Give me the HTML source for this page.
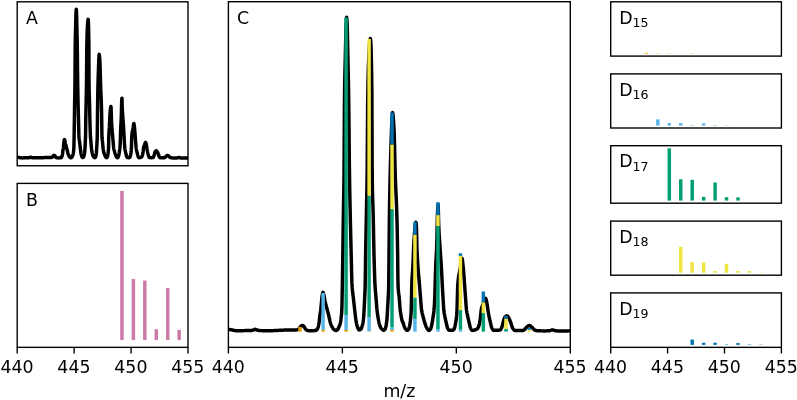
<!DOCTYPE html>
<html><head><meta charset="utf-8"><title>m/z</title>
<style>html,body{margin:0;padding:0;background:#fff}svg{display:block}</style>
</head><body>
<svg width="797" height="400" viewBox="0 0 797 400" font-family="'DejaVu Sans', 'Liberation Sans', sans-serif" font-size="17.36px" fill="#000">
<rect width="797" height="400" fill="#fff"/>
<clipPath id="ca"><rect x="17.2" y="1.8" width="170.80" height="163.95"/></clipPath>
<path d="M17.20,157.28 L17.32,157.28 L17.45,157.29 L17.57,157.29 L17.70,157.30 L17.82,157.31 L17.95,157.32 L18.07,157.33 L18.20,157.34 L18.32,157.36 L18.45,157.37 L18.57,157.38 L18.70,157.40 L18.82,157.43 L18.95,157.46 L19.07,157.49 L19.20,157.52 L19.32,157.56 L19.45,157.59 L19.57,157.62 L19.70,157.65 L19.82,157.68 L19.95,157.70 L20.07,157.72 L20.20,157.73 L20.32,157.75 L20.45,157.77 L20.57,157.78 L20.70,157.80 L20.82,157.82 L20.95,157.83 L21.07,157.84 L21.20,157.86 L21.32,157.87 L21.45,157.88 L21.57,157.88 L21.70,157.89 L21.82,157.89 L21.95,157.90 L22.07,157.90 L22.20,157.90 L22.32,157.90 L22.45,157.89 L22.57,157.89 L22.70,157.89 L22.82,157.89 L22.94,157.88 L23.07,157.88 L23.19,157.88 L23.32,157.87 L23.44,157.87 L23.57,157.86 L23.69,157.86 L23.82,157.86 L23.94,157.85 L24.07,157.85 L24.19,157.84 L24.32,157.84 L24.44,157.83 L24.57,157.83 L24.69,157.82 L24.82,157.82 L24.94,157.82 L25.07,157.81 L25.19,157.81 L25.32,157.81 L25.44,157.80 L25.57,157.80 L25.69,157.80 L25.82,157.80 L25.94,157.79 L26.07,157.79 L26.19,157.79 L26.32,157.79 L26.44,157.79 L26.57,157.79 L26.69,157.79 L26.82,157.78 L26.94,157.78 L27.07,157.78 L27.19,157.78 L27.32,157.78 L27.44,157.78 L27.57,157.78 L27.69,157.77 L27.82,157.77 L27.94,157.77 L28.07,157.77 L28.19,157.76 L28.32,157.76 L28.44,157.76 L28.57,157.75 L28.69,157.74 L28.81,157.73 L28.94,157.71 L29.06,157.68 L29.19,157.66 L29.31,157.63 L29.44,157.60 L29.56,157.56 L29.69,157.53 L29.81,157.49 L29.94,157.44 L30.06,157.37 L30.19,157.30 L30.31,157.24 L30.44,157.20 L30.56,157.19 L30.69,157.20 L30.81,157.24 L30.94,157.29 L31.06,157.34 L31.19,157.40 L31.31,157.46 L31.44,157.50 L31.56,157.54 L31.69,157.57 L31.81,157.60 L31.94,157.63 L32.06,157.66 L32.19,157.69 L32.31,157.72 L32.44,157.74 L32.56,157.76 L32.69,157.78 L32.81,157.79 L32.94,157.80 L33.06,157.80 L33.19,157.81 L33.31,157.81 L33.44,157.81 L33.56,157.81 L33.69,157.82 L33.81,157.82 L33.94,157.82 L34.06,157.82 L34.19,157.82 L34.31,157.83 L34.43,157.83 L34.56,157.83 L34.68,157.83 L34.81,157.83 L34.93,157.83 L35.06,157.84 L35.18,157.84 L35.31,157.84 L35.43,157.84 L35.56,157.84 L35.68,157.84 L35.81,157.84 L35.93,157.84 L36.06,157.84 L36.18,157.84 L36.31,157.85 L36.43,157.85 L36.56,157.85 L36.68,157.85 L36.81,157.85 L36.93,157.85 L37.06,157.85 L37.18,157.85 L37.31,157.85 L37.43,157.85 L37.56,157.85 L37.68,157.85 L37.81,157.85 L37.93,157.85 L38.06,157.85 L38.18,157.85 L38.31,157.85 L38.43,157.85 L38.56,157.84 L38.68,157.84 L38.81,157.84 L38.93,157.84 L39.06,157.83 L39.18,157.83 L39.31,157.83 L39.43,157.82 L39.56,157.82 L39.68,157.81 L39.81,157.81 L39.93,157.80 L40.05,157.80 L40.18,157.79 L40.30,157.79 L40.43,157.78 L40.55,157.77 L40.68,157.77 L40.80,157.76 L40.93,157.76 L41.05,157.75 L41.18,157.74 L41.30,157.74 L41.43,157.73 L41.55,157.72 L41.68,157.72 L41.80,157.71 L41.93,157.71 L42.05,157.70 L42.18,157.69 L42.30,157.69 L42.43,157.68 L42.55,157.68 L42.68,157.67 L42.80,157.67 L42.93,157.66 L43.05,157.66 L43.18,157.65 L43.30,157.65 L43.43,157.64 L43.55,157.64 L43.68,157.63 L43.80,157.62 L43.93,157.62 L44.05,157.61 L44.18,157.61 L44.30,157.60 L44.43,157.59 L44.55,157.59 L44.68,157.58 L44.80,157.57 L44.93,157.57 L45.05,157.56 L45.18,157.56 L45.30,157.55 L45.43,157.54 L45.55,157.54 L45.67,157.53 L45.80,157.53 L45.92,157.52 L46.05,157.52 L46.17,157.51 L46.30,157.51 L46.42,157.50 L46.55,157.50 L46.67,157.49 L46.80,157.49 L46.92,157.48 L47.05,157.48 L47.17,157.48 L47.30,157.48 L47.42,157.47 L47.55,157.47 L47.67,157.47 L47.80,157.47 L47.92,157.47 L48.05,157.47 L48.17,157.47 L48.30,157.47 L48.42,157.47 L48.55,157.47 L48.67,157.47 L48.80,157.47 L48.92,157.47 L49.05,157.47 L49.17,157.47 L49.30,157.47 L49.42,157.47 L49.55,157.47 L49.67,157.47 L49.80,157.47 L49.92,157.47 L50.05,157.47 L50.17,157.47 L50.30,157.47 L50.42,157.47 L50.55,157.47 L50.67,157.47 L50.80,157.47 L50.92,157.47 L51.05,157.47 L51.17,157.46 L51.30,157.45 L51.42,157.43 L51.54,157.40 L51.67,157.37 L51.79,157.34 L51.92,157.30 L52.04,157.25 L52.17,157.21 L52.29,157.14 L52.42,157.03 L52.54,156.87 L52.67,156.68 L52.79,156.48 L52.92,156.28 L53.04,156.10 L53.17,155.95 L53.29,155.84 L53.42,155.74 L53.54,155.64 L53.67,155.54 L53.79,155.46 L53.92,155.39 L54.04,155.35 L54.17,155.34 L54.29,155.36 L54.42,155.42 L54.54,155.50 L54.67,155.61 L54.79,155.73 L54.92,155.86 L55.04,155.99 L55.17,156.17 L55.29,156.38 L55.42,156.61 L55.54,156.82 L55.67,156.99 L55.79,157.12 L55.92,157.24 L56.04,157.35 L56.17,157.46 L56.29,157.56 L56.42,157.64 L56.54,157.70 L56.67,157.74 L56.79,157.77 L56.92,157.78 L57.04,157.80 L57.16,157.82 L57.29,157.83 L57.41,157.84 L57.54,157.86 L57.66,157.87 L57.79,157.87 L57.91,157.88 L58.04,157.89 L58.16,157.89 L58.29,157.90 L58.41,157.90 L58.54,157.90 L58.66,157.89 L58.79,157.89 L58.91,157.88 L59.04,157.88 L59.16,157.87 L59.29,157.86 L59.41,157.85 L59.54,157.84 L59.66,157.83 L59.79,157.82 L59.91,157.81 L60.04,157.80 L60.16,157.79 L60.29,157.77 L60.41,157.76 L60.54,157.75 L60.66,157.73 L60.79,157.72 L60.91,157.69 L61.04,157.67 L61.16,157.62 L61.29,157.52 L61.41,157.38 L61.54,157.20 L61.66,156.99 L61.79,156.76 L61.91,156.49 L62.04,156.12 L62.16,155.66 L62.29,155.12 L62.41,154.50 L62.54,153.81 L62.66,152.79 L62.78,151.62 L62.91,150.64 L63.03,149.84 L63.16,149.07 L63.28,148.22 L63.41,147.17 L63.53,145.94 L63.66,144.71 L63.78,143.43 L63.91,142.16 L64.03,141.24 L64.16,140.48 L64.28,139.88 L64.41,139.64 L64.53,139.75 L64.66,140.05 L64.78,140.44 L64.91,140.86 L65.03,141.43 L65.16,142.13 L65.28,142.86 L65.41,143.53 L65.53,144.09 L65.66,144.60 L65.78,145.08 L65.91,145.55 L66.03,145.99 L66.16,146.43 L66.28,146.87 L66.41,147.31 L66.53,147.76 L66.66,148.22 L66.78,148.67 L66.91,149.13 L67.03,149.58 L67.16,150.04 L67.28,150.51 L67.41,151.00 L67.53,151.52 L67.66,152.09 L67.78,152.67 L67.91,153.22 L68.03,153.71 L68.16,154.11 L68.28,154.46 L68.41,154.78 L68.53,155.07 L68.65,155.34 L68.78,155.60 L68.90,155.83 L69.03,156.06 L69.15,156.29 L69.28,156.50 L69.40,156.69 L69.53,156.86 L69.65,157.00 L69.78,157.11 L69.90,157.21 L70.03,157.31 L70.15,157.41 L70.28,157.50 L70.40,157.58 L70.53,157.65 L70.65,157.70 L70.78,157.73 L70.90,157.75 L71.03,157.75 L71.15,157.72 L71.28,157.67 L71.40,157.60 L71.53,157.51 L71.65,157.41 L71.78,157.30 L71.90,157.14 L72.03,156.92 L72.15,156.66 L72.28,156.38 L72.40,156.09 L72.53,155.83 L72.65,155.56 L72.78,155.28 L72.90,154.97 L73.03,154.60 L73.15,154.16 L73.28,153.58 L73.40,152.72 L73.53,151.66 L73.65,150.58 L73.78,149.49 L73.90,147.30 L74.03,140.94 L74.15,134.79 L74.27,126.94 L74.40,118.56 L74.52,109.72 L74.65,101.46 L74.77,95.03 L74.90,87.87 L75.02,73.78 L75.15,51.63 L75.27,41.27 L75.40,35.43 L75.52,30.88 L75.65,26.03 L75.77,20.75 L75.90,16.17 L76.02,12.49 L76.15,10.23 L76.27,9.16 L76.40,10.22 L76.52,12.57 L76.65,16.68 L76.77,22.07 L76.90,28.25 L77.02,33.69 L77.15,39.28 L77.27,46.06 L77.40,56.15 L77.52,68.73 L77.65,80.37 L77.77,88.52 L77.90,95.00 L78.02,100.74 L78.15,106.25 L78.27,111.41 L78.40,116.28 L78.52,121.01 L78.65,126.00 L78.77,131.16 L78.90,135.18 L79.02,137.22 L79.15,138.60 L79.27,139.66 L79.40,140.57 L79.52,141.48 L79.65,142.54 L79.77,143.62 L79.89,144.67 L80.02,145.72 L80.14,146.77 L80.27,147.82 L80.39,148.90 L80.52,149.99 L80.64,151.00 L80.77,151.93 L80.89,152.81 L81.02,153.58 L81.14,154.19 L81.27,154.71 L81.39,155.18 L81.52,155.59 L81.64,155.94 L81.77,156.25 L81.89,156.54 L82.02,156.83 L82.14,157.09 L82.27,157.30 L82.39,157.43 L82.52,157.47 L82.64,157.46 L82.77,157.44 L82.89,157.40 L83.02,157.35 L83.14,157.30 L83.27,157.23 L83.39,157.14 L83.52,156.96 L83.64,156.69 L83.77,156.36 L83.89,156.00 L84.02,155.64 L84.14,155.24 L84.27,154.78 L84.39,154.22 L84.52,153.50 L84.64,152.51 L84.77,151.27 L84.89,149.66 L85.02,147.60 L85.14,145.25 L85.27,142.64 L85.39,140.11 L85.52,137.03 L85.64,129.66 L85.76,120.47 L85.89,113.84 L86.01,107.84 L86.14,101.74 L86.26,96.13 L86.39,90.17 L86.51,81.94 L86.64,66.14 L86.76,49.95 L86.89,42.26 L87.01,37.03 L87.14,32.94 L87.26,29.72 L87.39,27.08 L87.51,24.84 L87.64,23.00 L87.76,21.61 L87.89,20.55 L88.01,19.67 L88.14,19.31 L88.26,19.92 L88.39,21.39 L88.51,25.06 L88.64,30.08 L88.76,36.13 L88.89,46.06 L89.01,80.23 L89.14,90.17 L89.26,94.89 L89.39,98.16 L89.51,101.97 L89.64,107.64 L89.76,114.06 L89.89,119.99 L90.01,124.59 L90.14,128.73 L90.26,132.36 L90.39,135.26 L90.51,137.33 L90.64,138.90 L90.76,140.22 L90.89,141.53 L91.01,143.02 L91.14,144.62 L91.26,146.19 L91.38,147.57 L91.51,148.65 L91.63,149.57 L91.76,150.39 L91.88,151.14 L92.01,151.87 L92.13,152.56 L92.26,153.19 L92.38,153.76 L92.51,154.25 L92.63,154.72 L92.76,155.14 L92.88,155.50 L93.01,155.79 L93.13,156.04 L93.26,156.27 L93.38,156.48 L93.51,156.67 L93.63,156.83 L93.76,156.97 L93.88,157.09 L94.01,157.21 L94.13,157.32 L94.26,157.42 L94.38,157.51 L94.51,157.59 L94.63,157.64 L94.76,157.66 L94.88,157.65 L95.01,157.59 L95.13,157.50 L95.26,157.39 L95.38,157.24 L95.51,157.08 L95.63,156.85 L95.76,156.47 L95.88,155.96 L96.01,155.33 L96.13,154.60 L96.26,153.78 L96.38,152.57 L96.51,151.00 L96.63,148.91 L96.76,146.80 L96.88,144.79 L97.00,142.59 L97.13,140.26 L97.25,137.10 L97.38,127.30 L97.50,114.36 L97.63,102.97 L97.75,95.37 L97.88,89.23 L98.00,84.00 L98.13,79.34 L98.25,75.16 L98.38,71.36 L98.50,67.79 L98.63,64.33 L98.75,60.74 L98.88,57.76 L99.00,56.02 L99.13,54.75 L99.25,54.38 L99.38,55.01 L99.50,56.19 L99.63,57.51 L99.75,59.20 L99.88,61.33 L100.00,63.89 L100.13,67.16 L100.25,71.96 L100.38,77.39 L100.50,82.37 L100.63,86.09 L100.75,89.08 L100.88,91.68 L101.00,94.18 L101.13,96.85 L101.25,99.97 L101.38,103.82 L101.50,108.72 L101.63,114.76 L101.75,121.94 L101.88,133.46 L102.00,137.52 L102.13,139.06 L102.25,140.04 L102.38,140.84 L102.50,141.84 L102.62,143.28 L102.75,144.92 L102.87,146.51 L103.00,147.82 L103.12,148.76 L103.25,149.53 L103.37,150.21 L103.50,150.86 L103.62,151.56 L103.75,152.26 L103.87,152.84 L104.00,153.21 L104.12,153.47 L104.25,153.68 L104.37,153.89 L104.50,154.14 L104.62,154.48 L104.75,154.89 L104.87,155.31 L105.00,155.68 L105.12,155.97 L105.25,156.24 L105.37,156.50 L105.50,156.72 L105.62,156.91 L105.75,157.07 L105.87,157.22 L106.00,157.36 L106.12,157.49 L106.25,157.60 L106.37,157.67 L106.50,157.71 L106.62,157.69 L106.75,157.63 L106.87,157.54 L107.00,157.40 L107.12,157.25 L107.25,157.07 L107.37,156.85 L107.50,156.51 L107.62,156.01 L107.75,155.41 L107.87,154.72 L108.00,153.96 L108.12,153.01 L108.25,151.80 L108.37,150.48 L108.49,148.97 L108.62,144.78 L108.74,138.17 L108.87,134.40 L108.99,132.20 L109.12,130.57 L109.24,129.04 L109.37,127.15 L109.49,124.44 L109.62,121.18 L109.74,118.16 L109.87,115.95 L109.99,114.02 L110.12,112.30 L110.24,110.81 L110.37,109.56 L110.49,108.52 L110.62,107.51 L110.74,106.74 L110.87,106.43 L110.99,106.97 L111.12,108.38 L111.24,112.18 L111.37,117.90 L111.49,120.91 L111.62,123.26 L111.74,125.23 L111.87,127.05 L111.99,128.72 L112.12,130.22 L112.24,131.60 L112.37,132.92 L112.49,134.23 L112.62,135.60 L112.74,137.06 L112.87,138.55 L112.99,140.04 L113.12,141.52 L113.24,143.01 L113.37,144.62 L113.49,146.18 L113.62,147.47 L113.74,148.33 L113.87,148.97 L113.99,149.49 L114.11,149.95 L114.24,150.38 L114.36,150.81 L114.49,151.28 L114.61,151.75 L114.74,152.21 L114.86,152.66 L114.99,153.09 L115.11,153.50 L115.24,153.89 L115.36,154.25 L115.49,154.62 L115.61,154.97 L115.74,155.32 L115.86,155.64 L115.99,155.94 L116.11,156.21 L116.24,156.45 L116.36,156.64 L116.49,156.84 L116.61,157.02 L116.74,157.20 L116.86,157.37 L116.99,157.51 L117.11,157.63 L117.24,157.71 L117.36,157.75 L117.49,157.75 L117.61,157.69 L117.74,157.60 L117.86,157.47 L117.99,157.32 L118.11,157.13 L118.24,156.93 L118.36,156.71 L118.49,156.35 L118.61,155.88 L118.74,155.31 L118.86,154.70 L118.99,154.08 L119.11,153.45 L119.24,152.74 L119.36,151.97 L119.49,151.16 L119.61,150.35 L119.73,149.51 L119.86,148.51 L119.98,147.20 L120.11,145.45 L120.23,143.18 L120.36,139.80 L120.48,135.38 L120.61,131.47 L120.73,127.92 L120.86,125.10 L120.98,122.94 L121.11,120.90 L121.23,118.43 L121.36,114.58 L121.48,108.69 L121.61,103.61 L121.73,100.79 L121.86,98.65 L121.98,98.14 L122.11,102.00 L122.23,107.05 L122.36,109.81 L122.48,112.02 L122.61,113.95 L122.73,115.75 L122.86,117.57 L122.98,119.31 L123.11,120.93 L123.23,122.52 L123.36,124.16 L123.48,125.93 L123.61,127.91 L123.73,130.14 L123.86,132.49 L123.98,134.83 L124.11,137.05 L124.23,139.21 L124.36,141.30 L124.48,143.34 L124.61,145.43 L124.73,147.24 L124.86,148.44 L124.98,149.30 L125.11,150.00 L125.23,150.62 L125.36,151.25 L125.48,151.84 L125.60,152.40 L125.73,152.94 L125.85,153.45 L125.98,153.96 L126.10,154.48 L126.23,155.02 L126.35,155.53 L126.48,155.99 L126.60,156.36 L126.73,156.63 L126.85,156.89 L126.98,157.12 L127.10,157.32 L127.23,157.47 L127.35,157.55 L127.48,157.57 L127.60,157.59 L127.73,157.60 L127.85,157.61 L127.98,157.62 L128.10,157.63 L128.23,157.64 L128.35,157.64 L128.48,157.65 L128.60,157.65 L128.73,157.65 L128.85,157.66 L128.98,157.66 L129.10,157.66 L129.23,157.65 L129.35,157.61 L129.48,157.53 L129.60,157.43 L129.73,157.30 L129.85,157.15 L129.98,156.98 L130.10,156.76 L130.23,156.39 L130.35,155.91 L130.48,155.34 L130.60,154.72 L130.73,154.09 L130.85,153.45 L130.98,152.73 L131.10,151.86 L131.22,150.74 L131.35,148.99 L131.47,145.77 L131.60,141.28 L131.72,137.15 L131.85,135.30 L131.97,134.04 L132.10,133.01 L132.22,132.16 L132.35,131.45 L132.47,130.84 L132.60,130.28 L132.72,129.74 L132.85,129.17 L132.97,128.54 L133.10,127.79 L133.22,126.90 L133.35,125.93 L133.47,125.01 L133.60,124.22 L133.72,123.67 L133.85,123.46 L133.97,123.69 L134.10,124.32 L134.22,125.23 L134.35,126.30 L134.47,127.44 L134.60,128.57 L134.72,129.92 L134.85,131.48 L134.97,133.15 L135.10,134.86 L135.22,136.50 L135.35,138.15 L135.47,139.83 L135.60,141.47 L135.72,143.07 L135.85,144.75 L135.97,146.34 L136.10,147.64 L136.22,148.53 L136.35,149.22 L136.47,149.81 L136.60,150.35 L136.72,150.88 L136.84,151.45 L136.97,152.00 L137.09,152.53 L137.22,153.05 L137.34,153.56 L137.47,154.06 L137.59,154.58 L137.72,155.12 L137.84,155.64 L137.97,156.09 L138.09,156.46 L138.22,156.72 L138.34,156.96 L138.47,157.19 L138.59,157.39 L138.72,157.55 L138.84,157.66 L138.97,157.71 L139.09,157.71 L139.22,157.70 L139.34,157.69 L139.47,157.67 L139.59,157.65 L139.72,157.63 L139.84,157.60 L139.97,157.57 L140.09,157.54 L140.22,157.51 L140.34,157.48 L140.47,157.45 L140.59,157.42 L140.72,157.38 L140.84,157.34 L140.97,157.29 L141.09,157.23 L141.22,157.17 L141.34,157.10 L141.47,157.01 L141.59,156.91 L141.72,156.75 L141.84,156.56 L141.97,156.33 L142.09,156.08 L142.22,155.80 L142.34,155.47 L142.46,155.07 L142.59,154.60 L142.71,154.07 L142.84,153.45 L142.96,152.67 L143.09,151.78 L143.21,150.78 L143.34,149.41 L143.46,148.18 L143.59,147.55 L143.71,147.04 L143.84,146.63 L143.96,146.27 L144.09,145.95 L144.21,145.65 L144.34,145.32 L144.46,144.97 L144.59,144.61 L144.71,144.26 L144.84,143.92 L144.96,143.60 L145.09,143.31 L145.21,143.05 L145.34,142.77 L145.46,142.54 L145.59,142.43 L145.71,142.54 L145.84,142.80 L145.96,143.13 L146.09,143.53 L146.21,144.10 L146.34,144.79 L146.46,145.52 L146.59,146.30 L146.71,147.19 L146.84,148.03 L146.96,148.77 L147.09,149.47 L147.21,150.13 L147.34,150.75 L147.46,151.35 L147.59,151.91 L147.71,152.45 L147.84,152.97 L147.96,153.47 L148.09,153.96 L148.21,154.46 L148.33,154.98 L148.46,155.48 L148.58,155.93 L148.71,156.30 L148.83,156.57 L148.96,156.82 L149.08,157.04 L149.21,157.25 L149.33,157.42 L149.46,157.54 L149.58,157.60 L149.71,157.62 L149.83,157.62 L149.96,157.63 L150.08,157.63 L150.21,157.64 L150.33,157.64 L150.46,157.65 L150.58,157.65 L150.71,157.65 L150.83,157.66 L150.96,157.66 L151.08,157.66 L151.21,157.66 L151.33,157.66 L151.46,157.66 L151.58,157.66 L151.71,157.65 L151.83,157.65 L151.96,157.64 L152.08,157.63 L152.21,157.62 L152.33,157.60 L152.46,157.59 L152.58,157.57 L152.71,157.55 L152.83,157.53 L152.96,157.49 L153.08,157.40 L153.21,157.26 L153.33,157.08 L153.46,156.86 L153.58,156.63 L153.71,156.38 L153.83,156.09 L153.95,155.70 L154.08,155.25 L154.20,154.77 L154.33,154.30 L154.45,153.88 L154.58,153.45 L154.70,153.01 L154.83,152.58 L154.95,152.18 L155.08,151.85 L155.20,151.62 L155.33,151.47 L155.45,151.33 L155.58,151.21 L155.70,151.10 L155.83,151.00 L155.95,150.92 L156.08,150.86 L156.20,150.82 L156.33,150.81 L156.45,150.83 L156.58,150.91 L156.70,151.03 L156.83,151.17 L156.95,151.35 L157.08,151.53 L157.20,151.72 L157.33,151.90 L157.45,152.12 L157.58,152.37 L157.70,152.65 L157.83,152.95 L157.95,153.27 L158.08,153.58 L158.20,153.90 L158.33,154.22 L158.45,154.59 L158.58,154.98 L158.70,155.38 L158.83,155.76 L158.95,156.10 L159.08,156.39 L159.20,156.61 L159.33,156.79 L159.45,156.98 L159.57,157.15 L159.70,157.30 L159.82,157.44 L159.95,157.55 L160.07,157.64 L160.20,157.69 L160.32,157.71 L160.45,157.73 L160.57,157.74 L160.70,157.75 L160.82,157.76 L160.95,157.77 L161.07,157.78 L161.20,157.79 L161.32,157.79 L161.45,157.80 L161.57,157.80 L161.70,157.80 L161.82,157.80 L161.95,157.80 L162.07,157.80 L162.20,157.80 L162.32,157.80 L162.45,157.80 L162.57,157.80 L162.70,157.80 L162.82,157.80 L162.95,157.80 L163.07,157.80 L163.20,157.80 L163.32,157.80 L163.45,157.80 L163.57,157.80 L163.70,157.80 L163.82,157.80 L163.95,157.80 L164.07,157.78 L164.20,157.76 L164.32,157.72 L164.45,157.68 L164.57,157.62 L164.70,157.56 L164.82,157.50 L164.95,157.43 L165.07,157.36 L165.20,157.28 L165.32,157.17 L165.44,157.03 L165.57,156.87 L165.69,156.71 L165.82,156.55 L165.94,156.41 L166.07,156.28 L166.19,156.18 L166.32,156.07 L166.44,155.97 L166.57,155.86 L166.69,155.76 L166.82,155.67 L166.94,155.59 L167.07,155.51 L167.19,155.45 L167.32,155.41 L167.44,155.39 L167.57,155.39 L167.69,155.41 L167.82,155.45 L167.94,155.51 L168.07,155.59 L168.19,155.68 L168.32,155.78 L168.44,155.88 L168.57,155.99 L168.69,156.09 L168.82,156.20 L168.94,156.30 L169.07,156.42 L169.19,156.55 L169.32,156.70 L169.44,156.84 L169.57,156.99 L169.69,157.13 L169.82,157.25 L169.94,157.36 L170.07,157.44 L170.19,157.50 L170.32,157.56 L170.44,157.61 L170.57,157.66 L170.69,157.71 L170.82,157.75 L170.94,157.78 L171.06,157.81 L171.19,157.83 L171.31,157.85 L171.44,157.85 L171.56,157.86 L171.69,157.87 L171.81,157.87 L171.94,157.88 L172.06,157.88 L172.19,157.89 L172.31,157.89 L172.44,157.90 L172.56,157.90 L172.69,157.90 L172.81,157.91 L172.94,157.91 L173.06,157.92 L173.19,157.92 L173.31,157.92 L173.44,157.92 L173.56,157.93 L173.69,157.93 L173.81,157.93 L173.94,157.93 L174.06,157.94 L174.19,157.94 L174.31,157.94 L174.44,157.94 L174.56,157.94 L174.69,157.94 L174.81,157.94 L174.94,157.94 L175.06,157.94 L175.19,157.94 L175.31,157.94 L175.44,157.94 L175.56,157.94 L175.69,157.94 L175.81,157.94 L175.94,157.94 L176.06,157.93 L176.19,157.93 L176.31,157.93 L176.44,157.92 L176.56,157.91 L176.68,157.91 L176.81,157.90 L176.93,157.90 L177.06,157.89 L177.18,157.88 L177.31,157.87 L177.43,157.86 L177.56,157.85 L177.68,157.84 L177.81,157.82 L177.93,157.79 L178.06,157.75 L178.18,157.71 L178.31,157.66 L178.43,157.62 L178.56,157.58 L178.68,157.54 L178.81,157.51 L178.93,157.48 L179.06,157.47 L179.18,157.47 L179.31,157.49 L179.43,157.52 L179.56,157.56 L179.68,157.60 L179.81,157.65 L179.93,157.70 L180.06,157.75 L180.18,157.80 L180.31,157.84 L180.43,157.87 L180.56,157.89 L180.68,157.90 L180.81,157.91 L180.93,157.91 L181.06,157.92 L181.18,157.93 L181.31,157.93 L181.43,157.94 L181.56,157.94 L181.68,157.95 L181.81,157.95 L181.93,157.96 L182.06,157.96 L182.18,157.97 L182.31,157.97 L182.43,157.97 L182.55,157.98 L182.68,157.98 L182.80,157.98 L182.93,157.98 L183.05,157.99 L183.18,157.99 L183.30,157.99 L183.43,157.99 L183.55,157.99 L183.68,157.99 L183.80,157.99 L183.93,157.99 L184.05,157.99 L184.18,157.99 L184.30,157.99 L184.43,157.99 L184.55,157.99 L184.68,157.99 L184.80,157.99 L184.93,157.99 L185.05,157.99 L185.18,157.98 L185.30,157.98 L185.43,157.98 L185.55,157.98 L185.68,157.98 L185.80,157.97 L185.93,157.97 L186.05,157.97 L186.18,157.97 L186.30,157.96 L186.43,157.96 L186.55,157.96 L186.68,157.95 L186.80,157.95 L186.93,157.94 L187.05,157.94 L187.18,157.93 L187.30,157.93 L187.43,157.92 L187.55,157.92 L187.68,157.91 L187.80,157.91 L187.93,157.90" fill="none" stroke="#000" stroke-width="3.47" stroke-linejoin="round" stroke-linecap="square" clip-path="url(#ca)"/>
<rect x="17.20" y="1.80" width="170.80" height="163.95" fill="none" stroke="#000" stroke-width="1.39" stroke-linejoin="miter"/>
<text x="25.90" y="23.7">A</text>
<line x1="121.95" y1="339.9" x2="121.95" y2="190.85" stroke="#CC79A7" stroke-width="3.47"/>
<line x1="133.39" y1="339.9" x2="133.39" y2="279.05" stroke="#CC79A7" stroke-width="3.47"/>
<line x1="144.83" y1="339.9" x2="144.83" y2="280.55" stroke="#CC79A7" stroke-width="3.47"/>
<line x1="156.27" y1="339.9" x2="156.27" y2="329.25" stroke="#CC79A7" stroke-width="3.47"/>
<line x1="167.71" y1="339.9" x2="167.71" y2="288.1" stroke="#CC79A7" stroke-width="3.47"/>
<line x1="179.15" y1="339.9" x2="179.15" y2="329.85" stroke="#CC79A7" stroke-width="3.47"/>
<rect x="17.20" y="183.40" width="170.80" height="163.95" fill="none" stroke="#000" stroke-width="1.39" stroke-linejoin="miter"/>
<line x1="17.20" y1="347.35" x2="17.20" y2="353.43" stroke="#000" stroke-width="1.39"/>
<text x="17.00" y="372.9" text-anchor="middle">440</text>
<line x1="74.13" y1="347.35" x2="74.13" y2="353.43" stroke="#000" stroke-width="1.39"/>
<text x="73.93" y="372.9" text-anchor="middle">445</text>
<line x1="131.07" y1="347.35" x2="131.07" y2="353.43" stroke="#000" stroke-width="1.39"/>
<text x="130.87" y="372.9" text-anchor="middle">450</text>
<line x1="188.00" y1="347.35" x2="188.00" y2="353.43" stroke="#000" stroke-width="1.39"/>
<text x="187.80" y="372.9" text-anchor="middle">455</text>
<text x="25.90" y="205.80">B</text>
<clipPath id="cc"><rect x="228.4" y="1.7" width="341.90" height="345.65"/></clipPath>
<path d="M228.40,329.50 L228.65,329.50 L228.90,329.51 L229.15,329.52 L229.40,329.54 L229.65,329.56 L229.90,329.58 L230.15,329.61 L230.40,329.63 L230.65,329.66 L230.90,329.69 L231.15,329.72 L231.40,329.76 L231.65,329.81 L231.90,329.87 L232.15,329.94 L232.40,330.01 L232.65,330.08 L232.90,330.15 L233.15,330.22 L233.40,330.28 L233.65,330.34 L233.90,330.38 L234.15,330.42 L234.40,330.46 L234.65,330.49 L234.90,330.53 L235.15,330.56 L235.40,330.60 L235.65,330.63 L235.90,330.66 L236.15,330.69 L236.40,330.71 L236.65,330.74 L236.90,330.76 L237.15,330.77 L237.40,330.79 L237.65,330.80 L237.90,330.80 L238.15,330.80 L238.40,330.80 L238.65,330.80 L238.90,330.79 L239.15,330.79 L239.40,330.78 L239.65,330.78 L239.90,330.77 L240.15,330.76 L240.40,330.76 L240.65,330.75 L240.90,330.74 L241.15,330.73 L241.40,330.72 L241.65,330.71 L241.90,330.70 L242.15,330.69 L242.40,330.68 L242.65,330.67 L242.90,330.66 L243.15,330.66 L243.40,330.65 L243.65,330.64 L243.90,330.63 L244.15,330.62 L244.40,330.61 L244.65,330.61 L244.90,330.60 L245.15,330.60 L245.40,330.59 L245.65,330.59 L245.90,330.58 L246.15,330.58 L246.40,330.58 L246.65,330.57 L246.90,330.57 L247.15,330.57 L247.40,330.57 L247.65,330.56 L247.90,330.56 L248.15,330.56 L248.40,330.56 L248.65,330.55 L248.90,330.55 L249.15,330.55 L249.40,330.54 L249.65,330.54 L249.90,330.53 L250.15,330.53 L250.40,330.52 L250.65,330.51 L250.90,330.50 L251.15,330.49 L251.40,330.47 L251.65,330.44 L251.90,330.40 L252.15,330.35 L252.40,330.29 L252.65,330.23 L252.90,330.17 L253.15,330.10 L253.40,330.03 L253.65,329.95 L253.90,329.83 L254.15,329.68 L254.40,329.54 L254.65,329.41 L254.90,329.32 L255.15,329.30 L255.40,329.34 L255.65,329.41 L255.90,329.52 L256.15,329.64 L256.40,329.76 L256.65,329.88 L256.90,329.97 L257.15,330.04 L257.40,330.11 L257.65,330.18 L257.90,330.24 L258.15,330.31 L258.40,330.37 L258.65,330.42 L258.90,330.47 L259.15,330.52 L259.40,330.55 L259.65,330.58 L259.90,330.60 L260.15,330.60 L260.40,330.61 L260.65,330.61 L260.90,330.62 L261.15,330.62 L261.40,330.63 L261.65,330.63 L261.90,330.64 L262.15,330.64 L262.40,330.65 L262.65,330.65 L262.90,330.65 L263.15,330.66 L263.40,330.66 L263.65,330.66 L263.90,330.67 L264.15,330.67 L264.40,330.67 L264.65,330.68 L264.90,330.68 L265.15,330.68 L265.40,330.68 L265.65,330.68 L265.90,330.69 L266.15,330.69 L266.40,330.69 L266.65,330.69 L266.90,330.69 L267.15,330.69 L267.40,330.69 L267.65,330.70 L267.90,330.70 L268.15,330.70 L268.40,330.70 L268.65,330.70 L268.90,330.70 L269.15,330.70 L269.40,330.70 L269.65,330.70 L269.90,330.70 L270.15,330.70 L270.40,330.70 L270.65,330.70 L270.90,330.69 L271.15,330.69 L271.40,330.69 L271.65,330.68 L271.90,330.67 L272.15,330.67 L272.40,330.66 L272.65,330.65 L272.90,330.64 L273.15,330.63 L273.40,330.62 L273.65,330.61 L273.90,330.60 L274.15,330.59 L274.40,330.58 L274.65,330.57 L274.90,330.55 L275.15,330.54 L275.40,330.53 L275.65,330.52 L275.90,330.50 L276.15,330.49 L276.40,330.48 L276.65,330.46 L276.90,330.45 L277.15,330.44 L277.40,330.42 L277.65,330.41 L277.90,330.40 L278.15,330.39 L278.40,330.37 L278.65,330.36 L278.90,330.35 L279.15,330.34 L279.40,330.33 L279.65,330.31 L279.90,330.30 L280.15,330.29 L280.40,330.28 L280.65,330.27 L280.90,330.26 L281.15,330.25 L281.40,330.24 L281.65,330.22 L281.90,330.21 L282.15,330.20 L282.40,330.19 L282.65,330.17 L282.90,330.16 L283.15,330.15 L283.40,330.13 L283.65,330.12 L283.90,330.11 L284.15,330.09 L284.40,330.08 L284.65,330.07 L284.90,330.06 L285.15,330.04 L285.40,330.03 L285.65,330.02 L285.90,330.01 L286.15,330.00 L286.40,329.99 L286.65,329.97 L286.90,329.96 L287.15,329.96 L287.40,329.95 L287.65,329.94 L287.90,329.93 L288.15,329.92 L288.40,329.92 L288.65,329.91 L288.90,329.91 L289.15,329.91 L289.40,329.90 L289.65,329.90 L289.90,329.90 L290.15,329.90 L290.40,329.90 L290.65,329.90 L290.90,329.90 L291.15,329.90 L291.40,329.90 L291.65,329.90 L291.90,329.90 L292.15,329.90 L292.40,329.90 L292.65,329.90 L292.90,329.90 L293.15,329.90 L293.40,329.90 L293.65,329.90 L293.90,329.90 L294.15,329.90 L294.40,329.90 L294.65,329.90 L294.90,329.90 L295.15,329.90 L295.40,329.90 L295.65,329.90 L295.90,329.90 L296.15,329.90 L296.40,329.88 L296.65,329.85 L296.90,329.81 L297.15,329.76 L297.40,329.69 L297.65,329.62 L297.90,329.53 L298.15,329.44 L298.40,329.34 L298.65,329.21 L298.90,328.97 L299.15,328.63 L299.40,328.23 L299.65,327.80 L299.90,327.38 L300.15,327.00 L300.40,326.70 L300.65,326.47 L300.90,326.25 L301.15,326.03 L301.40,325.83 L301.65,325.66 L301.90,325.52 L302.15,325.43 L302.40,325.40 L302.65,325.44 L302.90,325.57 L303.15,325.75 L303.40,325.98 L303.65,326.23 L303.90,326.50 L304.15,326.78 L304.40,327.16 L304.65,327.61 L304.90,328.08 L305.15,328.52 L305.40,328.89 L305.65,329.16 L305.90,329.41 L306.15,329.66 L306.40,329.88 L306.65,330.09 L306.90,330.26 L307.15,330.39 L307.40,330.48 L307.65,330.52 L307.90,330.56 L308.15,330.60 L308.40,330.63 L308.65,330.66 L308.90,330.69 L309.15,330.71 L309.40,330.74 L309.65,330.75 L309.90,330.77 L310.15,330.78 L310.40,330.79 L310.65,330.80 L310.90,330.80 L311.15,330.80 L311.40,330.79 L311.65,330.79 L311.90,330.77 L312.15,330.76 L312.40,330.74 L312.65,330.72 L312.90,330.70 L313.15,330.68 L313.40,330.66 L313.65,330.63 L313.90,330.61 L314.15,330.59 L314.40,330.56 L314.65,330.54 L314.90,330.52 L315.15,330.49 L315.40,330.46 L315.65,330.42 L315.90,330.37 L316.15,330.31 L316.40,330.21 L316.65,330.00 L316.90,329.70 L317.15,329.32 L317.40,328.89 L317.65,328.40 L317.90,327.83 L318.15,327.05 L318.40,326.08 L318.65,324.94 L318.90,323.64 L319.15,322.18 L319.40,320.04 L319.65,317.57 L319.90,315.50 L320.15,313.81 L320.40,312.20 L320.65,310.40 L320.90,308.18 L321.15,305.60 L321.40,303.00 L321.65,300.29 L321.90,297.63 L322.15,295.68 L322.40,294.08 L322.65,292.82 L322.90,292.30 L323.15,292.55 L323.40,293.17 L323.65,293.99 L323.90,294.87 L324.15,296.08 L324.40,297.55 L324.65,299.09 L324.90,300.51 L325.15,301.68 L325.40,302.76 L325.65,303.78 L325.90,304.76 L326.15,305.70 L326.40,306.63 L326.65,307.55 L326.90,308.48 L327.15,309.42 L327.40,310.39 L327.65,311.35 L327.90,312.31 L328.15,313.26 L328.40,314.23 L328.65,315.23 L328.90,316.25 L329.15,317.36 L329.40,318.57 L329.65,319.78 L329.90,320.95 L330.15,321.98 L330.40,322.82 L330.65,323.56 L330.90,324.23 L331.15,324.85 L331.40,325.42 L331.65,325.95 L331.90,326.45 L332.15,326.94 L332.40,327.41 L332.65,327.85 L332.90,328.26 L333.15,328.61 L333.40,328.90 L333.65,329.14 L333.90,329.36 L334.15,329.57 L334.40,329.78 L334.65,329.96 L334.90,330.13 L335.15,330.27 L335.40,330.38 L335.65,330.46 L335.90,330.50 L336.15,330.49 L336.40,330.43 L336.65,330.32 L336.90,330.16 L337.15,329.98 L337.40,329.78 L337.65,329.55 L337.90,329.21 L338.15,328.75 L338.40,328.19 L338.65,327.60 L338.90,327.00 L339.15,326.43 L339.40,325.88 L339.65,325.28 L339.90,324.62 L340.15,323.85 L340.40,322.92 L340.65,321.71 L340.90,319.88 L341.15,317.65 L341.40,315.38 L341.65,313.07 L341.90,308.46 L342.15,295.05 L342.40,282.09 L342.65,265.53 L342.90,247.86 L343.15,229.22 L343.40,211.80 L343.65,198.25 L343.90,183.17 L344.15,153.46 L344.40,106.75 L344.65,84.90 L344.90,72.60 L345.15,63.01 L345.40,52.78 L345.65,41.64 L345.90,32.00 L346.15,24.23 L346.40,19.46 L346.65,17.20 L346.90,19.44 L347.15,24.40 L347.40,33.08 L347.65,44.43 L347.90,57.46 L348.15,68.94 L348.40,80.72 L348.65,95.00 L348.90,116.29 L349.15,142.80 L349.40,167.34 L349.65,184.52 L349.90,198.19 L350.15,210.29 L350.40,221.92 L350.65,232.78 L350.90,243.05 L351.15,253.02 L351.40,263.54 L351.65,274.43 L351.90,282.91 L352.15,287.20 L352.40,290.11 L352.65,292.35 L352.90,294.27 L353.15,296.20 L353.40,298.42 L353.65,300.69 L353.90,302.92 L354.15,305.13 L354.40,307.34 L354.65,309.55 L354.90,311.83 L355.15,314.13 L355.40,316.25 L355.65,318.21 L355.90,320.07 L356.15,321.70 L356.40,322.98 L356.65,324.08 L356.90,325.06 L357.15,325.93 L357.40,326.68 L357.65,327.32 L357.90,327.95 L358.15,328.56 L358.40,329.11 L358.65,329.55 L358.90,329.82 L359.15,329.90 L359.40,329.88 L359.65,329.83 L359.90,329.75 L360.15,329.65 L360.40,329.53 L360.65,329.39 L360.90,329.21 L361.15,328.83 L361.40,328.25 L361.65,327.55 L361.90,326.80 L362.15,326.04 L362.40,325.21 L362.65,324.23 L362.90,323.04 L363.15,321.53 L363.40,319.44 L363.65,316.82 L363.90,313.43 L364.15,309.10 L364.40,304.13 L364.65,298.64 L364.90,293.29 L365.15,286.79 L365.40,271.26 L365.65,251.89 L365.90,237.91 L366.15,225.27 L366.40,212.40 L366.65,200.57 L366.90,188.01 L367.15,170.66 L367.40,137.34 L367.65,103.22 L367.90,87.00 L368.15,75.97 L368.40,67.35 L368.65,60.55 L368.90,55.00 L369.15,50.27 L369.40,46.39 L369.65,43.46 L369.90,41.23 L370.15,39.38 L370.40,38.60 L370.65,39.89 L370.90,43.00 L371.15,50.73 L371.40,61.32 L371.65,74.08 L371.90,95.00 L372.15,167.04 L372.40,188.00 L372.65,197.96 L372.90,204.85 L373.15,212.89 L373.40,224.85 L373.65,238.38 L373.90,250.87 L374.15,260.59 L374.40,269.32 L374.65,276.95 L374.90,283.07 L375.15,287.43 L375.40,290.74 L375.65,293.53 L375.90,296.30 L376.15,299.44 L376.40,302.82 L376.65,306.11 L376.90,309.02 L377.15,311.31 L377.40,313.25 L377.65,314.97 L377.90,316.56 L378.15,318.09 L378.40,319.54 L378.65,320.87 L378.90,322.07 L379.15,323.12 L379.40,324.10 L379.65,324.98 L379.90,325.75 L380.15,326.36 L380.40,326.89 L380.65,327.38 L380.90,327.82 L381.15,328.21 L381.40,328.55 L381.65,328.85 L381.90,329.10 L382.15,329.34 L382.40,329.58 L382.65,329.80 L382.90,329.99 L383.15,330.15 L383.40,330.25 L383.65,330.30 L383.90,330.27 L384.15,330.16 L384.40,329.97 L384.65,329.72 L384.90,329.42 L385.15,329.07 L385.40,328.60 L385.65,327.80 L385.90,326.72 L386.15,325.39 L386.40,323.86 L386.65,322.12 L386.90,319.57 L387.15,316.25 L387.40,311.86 L387.65,307.40 L387.90,303.17 L388.15,298.53 L388.40,293.61 L388.65,286.96 L388.90,266.29 L389.15,239.01 L389.40,215.00 L389.65,198.97 L389.90,186.02 L390.15,175.00 L390.40,165.17 L390.65,156.37 L390.90,148.34 L391.15,140.83 L391.40,133.53 L391.65,125.97 L391.90,119.67 L392.15,116.00 L392.40,113.33 L392.65,112.54 L392.90,113.88 L393.15,116.36 L393.40,119.15 L393.65,122.71 L393.90,127.21 L394.15,132.60 L394.40,139.50 L394.65,149.62 L394.90,161.06 L395.15,171.56 L395.40,179.41 L395.65,185.70 L395.90,191.19 L396.15,196.46 L396.40,202.09 L396.65,208.67 L396.90,216.78 L397.15,227.11 L397.40,239.85 L397.65,255.00 L397.90,279.28 L398.15,287.84 L398.40,291.08 L398.65,293.15 L398.90,294.84 L399.15,296.96 L399.40,299.99 L399.65,303.44 L399.90,306.79 L400.15,309.56 L400.40,311.53 L400.65,313.15 L400.90,314.58 L401.15,315.97 L401.40,317.44 L401.65,318.92 L401.90,320.14 L402.15,320.92 L402.40,321.47 L402.65,321.91 L402.90,322.35 L403.15,322.88 L403.40,323.59 L403.65,324.45 L403.90,325.34 L404.15,326.12 L404.40,326.74 L404.65,327.31 L404.90,327.85 L405.15,328.32 L405.40,328.73 L405.65,329.06 L405.90,329.37 L406.15,329.67 L406.40,329.94 L406.65,330.17 L406.90,330.33 L407.15,330.40 L407.40,330.37 L407.65,330.24 L407.90,330.04 L408.15,329.76 L408.40,329.43 L408.65,329.05 L408.90,328.60 L409.15,327.87 L409.40,326.83 L409.65,325.55 L409.90,324.09 L410.15,322.50 L410.40,320.50 L410.65,317.94 L410.90,315.16 L411.15,311.98 L411.40,303.15 L411.65,289.21 L411.90,281.25 L412.15,276.63 L412.40,273.19 L412.65,269.97 L412.90,265.98 L413.15,260.27 L413.40,253.38 L413.65,247.02 L413.90,242.37 L414.15,238.30 L414.40,234.67 L414.65,231.52 L414.90,228.89 L415.15,226.70 L415.40,224.58 L415.65,222.95 L415.90,222.30 L416.15,223.42 L416.40,226.40 L416.65,234.40 L416.90,246.48 L417.15,252.81 L417.40,257.78 L417.65,261.92 L417.90,265.76 L418.15,269.29 L418.40,272.44 L418.65,275.35 L418.90,278.13 L419.15,280.91 L419.40,283.79 L419.65,286.86 L419.90,290.00 L420.15,293.16 L420.40,296.27 L420.65,299.42 L420.90,302.82 L421.15,306.10 L421.40,308.82 L421.65,310.62 L421.90,311.97 L422.15,313.08 L422.40,314.05 L422.65,314.95 L422.90,315.86 L423.15,316.85 L423.40,317.83 L423.65,318.81 L423.90,319.75 L424.15,320.66 L424.40,321.53 L424.65,322.34 L424.90,323.12 L425.15,323.88 L425.40,324.64 L425.65,325.36 L425.90,326.05 L426.15,326.68 L426.40,327.25 L426.65,327.74 L426.90,328.16 L427.15,328.56 L427.40,328.96 L427.65,329.34 L427.90,329.69 L428.15,329.99 L428.40,330.23 L428.65,330.40 L428.90,330.49 L429.15,330.48 L429.40,330.37 L429.65,330.18 L429.90,329.91 L430.15,329.57 L430.40,329.19 L430.65,328.77 L430.90,328.29 L431.15,327.54 L431.40,326.54 L431.65,325.35 L431.90,324.07 L432.15,322.76 L432.40,321.42 L432.65,319.92 L432.90,318.30 L433.15,316.60 L433.40,314.89 L433.65,313.12 L433.90,311.01 L434.15,308.25 L434.40,304.56 L434.65,299.77 L434.90,292.64 L435.15,283.33 L435.40,275.09 L435.65,267.60 L435.90,261.65 L436.15,257.09 L436.40,252.80 L436.65,247.60 L436.90,239.47 L437.15,227.05 L437.40,216.35 L437.65,210.39 L437.90,205.88 L438.15,204.81 L438.40,212.96 L438.65,223.59 L438.90,229.41 L439.15,234.08 L439.40,238.14 L439.65,241.93 L439.90,245.78 L440.15,249.45 L440.40,252.87 L440.65,256.22 L440.90,259.67 L441.15,263.40 L441.40,267.58 L441.65,272.28 L441.90,277.24 L442.15,282.17 L442.40,286.84 L442.65,291.40 L442.90,295.81 L443.15,300.10 L443.40,304.51 L443.65,308.33 L443.90,310.86 L444.15,312.68 L444.40,314.15 L444.65,315.46 L444.90,316.78 L445.15,318.04 L445.40,319.22 L445.65,320.35 L445.90,321.43 L446.15,322.50 L446.40,323.60 L446.65,324.73 L446.90,325.81 L447.15,326.77 L447.40,327.56 L447.65,328.13 L447.90,328.67 L448.15,329.17 L448.40,329.58 L448.65,329.90 L448.90,330.07 L449.15,330.12 L449.40,330.15 L449.65,330.17 L449.90,330.20 L450.15,330.22 L450.40,330.23 L450.65,330.25 L450.90,330.26 L451.15,330.27 L451.40,330.28 L451.65,330.29 L451.90,330.30 L452.15,330.30 L452.40,330.30 L452.65,330.28 L452.90,330.20 L453.15,330.04 L453.40,329.82 L453.65,329.54 L453.90,329.22 L454.15,328.87 L454.40,328.40 L454.65,327.62 L454.90,326.60 L455.15,325.41 L455.40,324.11 L455.65,322.77 L455.90,321.41 L456.15,319.91 L456.40,318.08 L456.65,315.71 L456.90,312.02 L457.15,305.23 L457.40,295.76 L457.65,287.06 L457.90,283.15 L458.15,280.50 L458.40,278.33 L458.65,276.53 L458.90,275.04 L459.15,273.75 L459.40,272.58 L459.65,271.44 L459.90,270.24 L460.15,268.91 L460.40,267.33 L460.65,265.44 L460.90,263.41 L461.15,261.45 L461.40,259.79 L461.65,258.63 L461.90,258.20 L462.15,258.69 L462.40,260.01 L462.65,261.92 L462.90,264.19 L463.15,266.59 L463.40,268.97 L463.65,271.81 L463.90,275.10 L464.15,278.64 L464.40,282.22 L464.65,285.68 L464.90,289.16 L465.15,292.70 L465.40,296.16 L465.65,299.54 L465.90,303.08 L466.15,306.43 L466.40,309.17 L466.65,311.04 L466.90,312.52 L467.15,313.75 L467.40,314.88 L467.65,316.01 L467.90,317.20 L468.15,318.36 L468.40,319.49 L468.65,320.58 L468.90,321.66 L469.15,322.71 L469.40,323.82 L469.65,324.95 L469.90,326.04 L470.15,327.00 L470.40,327.77 L470.65,328.32 L470.90,328.83 L471.15,329.31 L471.40,329.73 L471.65,330.06 L471.90,330.29 L472.15,330.40 L472.40,330.40 L472.65,330.38 L472.90,330.36 L473.15,330.32 L473.40,330.28 L473.65,330.23 L473.90,330.18 L474.15,330.12 L474.40,330.06 L474.65,329.99 L474.90,329.93 L475.15,329.86 L475.40,329.79 L475.65,329.71 L475.90,329.62 L476.15,329.51 L476.40,329.40 L476.65,329.26 L476.90,329.11 L477.15,328.94 L477.40,328.71 L477.65,328.39 L477.90,327.98 L478.15,327.50 L478.40,326.96 L478.65,326.38 L478.90,325.68 L479.15,324.84 L479.40,323.85 L479.65,322.74 L479.90,321.42 L480.15,319.78 L480.40,317.89 L480.65,315.79 L480.90,312.91 L481.15,310.32 L481.40,308.98 L481.65,307.92 L481.90,307.04 L482.15,306.29 L482.40,305.62 L482.65,304.97 L482.90,304.29 L483.15,303.55 L483.40,302.79 L483.65,302.05 L483.90,301.33 L484.15,300.66 L484.40,300.04 L484.65,299.49 L484.90,298.91 L485.15,298.41 L485.40,298.20 L485.65,298.42 L485.90,298.96 L486.15,299.66 L486.40,300.51 L486.65,301.72 L486.90,303.16 L487.15,304.69 L487.40,306.35 L487.65,308.23 L487.90,310.00 L488.15,311.55 L488.40,313.03 L488.65,314.42 L488.90,315.74 L489.15,316.99 L489.40,318.18 L489.65,319.32 L489.90,320.41 L490.15,321.47 L490.40,322.50 L490.65,323.56 L490.90,324.65 L491.15,325.71 L491.40,326.66 L491.65,327.44 L491.90,328.01 L492.15,328.52 L492.40,329.00 L492.65,329.43 L492.90,329.78 L493.15,330.04 L493.40,330.18 L493.65,330.21 L493.90,330.22 L494.15,330.24 L494.40,330.25 L494.65,330.26 L494.90,330.27 L495.15,330.27 L495.40,330.28 L495.65,330.29 L495.90,330.29 L496.15,330.30 L496.40,330.30 L496.65,330.30 L496.90,330.30 L497.15,330.30 L497.40,330.29 L497.65,330.29 L497.90,330.27 L498.15,330.26 L498.40,330.24 L498.65,330.21 L498.90,330.18 L499.15,330.15 L499.40,330.11 L499.65,330.07 L499.90,330.02 L500.15,329.95 L500.40,329.75 L500.65,329.46 L500.90,329.07 L501.15,328.62 L501.40,328.13 L501.65,327.61 L501.90,326.99 L502.15,326.17 L502.40,325.21 L502.65,324.20 L502.90,323.22 L503.15,322.33 L503.40,321.43 L503.65,320.50 L503.90,319.58 L504.15,318.75 L504.40,318.06 L504.65,317.57 L504.90,317.25 L505.15,316.97 L505.40,316.70 L505.65,316.46 L505.90,316.25 L506.15,316.08 L506.40,315.96 L506.65,315.88 L506.90,315.85 L507.15,315.91 L507.40,316.07 L507.65,316.32 L507.90,316.63 L508.15,316.99 L508.40,317.37 L508.65,317.77 L508.90,318.16 L509.15,318.62 L509.40,319.16 L509.65,319.75 L509.90,320.38 L510.15,321.04 L510.40,321.71 L510.65,322.37 L510.90,323.06 L511.15,323.83 L511.40,324.66 L511.65,325.49 L511.90,326.29 L512.15,327.01 L512.40,327.62 L512.65,328.08 L512.90,328.48 L513.15,328.86 L513.40,329.22 L513.65,329.55 L513.90,329.83 L514.15,330.07 L514.40,330.25 L514.65,330.37 L514.90,330.41 L515.15,330.44 L515.40,330.47 L515.65,330.49 L515.90,330.51 L516.15,330.53 L516.40,330.55 L516.65,330.56 L516.90,330.58 L517.15,330.59 L517.40,330.59 L517.65,330.60 L517.90,330.60 L518.15,330.60 L518.40,330.60 L518.65,330.60 L518.90,330.60 L519.15,330.60 L519.40,330.60 L519.65,330.60 L519.90,330.60 L520.15,330.60 L520.40,330.60 L520.65,330.60 L520.90,330.60 L521.15,330.60 L521.40,330.60 L521.65,330.60 L521.90,330.60 L522.15,330.59 L522.40,330.56 L522.65,330.51 L522.90,330.43 L523.15,330.33 L523.40,330.22 L523.65,330.09 L523.90,329.95 L524.15,329.81 L524.40,329.66 L524.65,329.49 L524.90,329.26 L525.15,328.97 L525.40,328.64 L525.65,328.30 L525.90,327.97 L526.15,327.66 L526.40,327.39 L526.65,327.17 L526.90,326.95 L527.15,326.73 L527.40,326.51 L527.65,326.30 L527.90,326.11 L528.15,325.93 L528.40,325.77 L528.65,325.65 L528.90,325.56 L529.15,325.51 L529.40,325.50 L529.65,325.55 L529.90,325.64 L530.15,325.77 L530.40,325.94 L530.65,326.13 L530.90,326.33 L531.15,326.55 L531.40,326.78 L531.65,327.00 L531.90,327.22 L532.15,327.43 L532.40,327.68 L532.65,327.96 L532.90,328.27 L533.15,328.58 L533.40,328.88 L533.65,329.18 L533.90,329.44 L534.15,329.67 L534.40,329.85 L534.65,329.97 L534.90,330.09 L535.15,330.20 L535.40,330.31 L535.65,330.40 L535.90,330.49 L536.15,330.56 L536.40,330.62 L536.65,330.66 L536.90,330.69 L537.15,330.71 L537.40,330.72 L537.65,330.73 L537.90,330.75 L538.15,330.76 L538.40,330.77 L538.65,330.78 L538.90,330.79 L539.15,330.80 L539.40,330.81 L539.65,330.82 L539.90,330.82 L540.15,330.83 L540.40,330.84 L540.65,330.85 L540.90,330.85 L541.15,330.86 L541.40,330.86 L541.65,330.87 L541.90,330.87 L542.15,330.88 L542.40,330.88 L542.65,330.88 L542.90,330.89 L543.15,330.89 L543.40,330.89 L543.65,330.90 L543.90,330.90 L544.15,330.90 L544.40,330.90 L544.65,330.90 L544.90,330.90 L545.15,330.90 L545.40,330.90 L545.65,330.90 L545.90,330.89 L546.15,330.88 L546.40,330.88 L546.65,330.87 L546.90,330.86 L547.15,330.85 L547.40,330.84 L547.65,330.82 L547.90,330.81 L548.15,330.80 L548.40,330.78 L548.65,330.76 L548.90,330.75 L549.15,330.73 L549.40,330.71 L549.65,330.68 L549.90,330.64 L550.15,330.57 L550.40,330.49 L550.65,330.40 L550.90,330.31 L551.15,330.21 L551.40,330.12 L551.65,330.04 L551.90,329.98 L552.15,329.93 L552.40,329.90 L552.65,329.91 L552.90,329.94 L553.15,330.00 L553.40,330.08 L553.65,330.18 L553.90,330.28 L554.15,330.39 L554.40,330.50 L554.65,330.60 L554.90,330.68 L555.15,330.75 L555.40,330.79 L555.65,330.81 L555.90,330.82 L556.15,330.84 L556.40,330.85 L556.65,330.86 L556.90,330.88 L557.15,330.89 L557.40,330.90 L557.65,330.91 L557.90,330.92 L558.15,330.93 L558.40,330.94 L558.65,330.95 L558.90,330.95 L559.15,330.96 L559.40,330.97 L559.65,330.97 L559.90,330.98 L560.15,330.98 L560.40,330.99 L560.65,330.99 L560.90,330.99 L561.15,331.00 L561.40,331.00 L561.65,331.00 L561.90,331.00 L562.15,331.00 L562.40,331.00 L562.65,331.00 L562.90,331.00 L563.15,331.00 L563.40,331.00 L563.65,330.99 L563.90,330.99 L564.15,330.99 L564.40,330.99 L564.65,330.98 L564.90,330.98 L565.15,330.98 L565.40,330.97 L565.65,330.97 L565.90,330.96 L566.15,330.96 L566.40,330.95 L566.65,330.94 L566.90,330.94 L567.15,330.93 L567.40,330.92 L567.65,330.92 L567.90,330.91 L568.15,330.90 L568.40,330.89 L568.65,330.88 L568.90,330.87 L569.15,330.86 L569.40,330.85 L569.65,330.83 L569.90,330.82 L570.15,330.81" fill="none" stroke="#000" stroke-width="3.47" stroke-linejoin="round" stroke-linecap="square" clip-path="url(#cc)"/>
<line x1="300.00" y1="331.65" x2="300.00" y2="326.90" stroke="#E69F00" stroke-width="3.47"/>
<line x1="323.10" y1="331.65" x2="323.10" y2="329.90" stroke="#E69F00" stroke-width="3.47"/>
<line x1="323.10" y1="329.90" x2="323.10" y2="292.90" stroke="#56B4E9" stroke-width="3.47"/>
<line x1="346.10" y1="331.65" x2="346.10" y2="330.00" stroke="#E69F00" stroke-width="3.47"/>
<line x1="346.10" y1="330.00" x2="346.10" y2="315.10" stroke="#56B4E9" stroke-width="3.47"/>
<line x1="346.10" y1="315.10" x2="346.10" y2="17.55" stroke="#009E73" stroke-width="3.47"/>
<line x1="369.10" y1="331.65" x2="369.10" y2="331.30" stroke="#E69F00" stroke-width="3.47"/>
<line x1="369.10" y1="331.30" x2="369.10" y2="316.90" stroke="#56B4E9" stroke-width="3.47"/>
<line x1="369.10" y1="316.90" x2="369.10" y2="195.60" stroke="#009E73" stroke-width="3.47"/>
<line x1="369.10" y1="195.60" x2="369.10" y2="38.90" stroke="#F0E442" stroke-width="3.47"/>
<line x1="392.00" y1="331.65" x2="392.00" y2="329.95" stroke="#E69F00" stroke-width="3.47"/>
<line x1="392.00" y1="329.95" x2="392.00" y2="327.30" stroke="#56B4E9" stroke-width="3.47"/>
<line x1="392.00" y1="327.30" x2="392.00" y2="209.10" stroke="#009E73" stroke-width="3.47"/>
<line x1="392.00" y1="209.10" x2="392.00" y2="144.40" stroke="#F0E442" stroke-width="3.47"/>
<line x1="392.00" y1="144.40" x2="392.00" y2="112.55" stroke="#0072B2" stroke-width="3.47"/>
<line x1="414.95" y1="331.65" x2="414.95" y2="318.90" stroke="#56B4E9" stroke-width="3.47"/>
<line x1="414.95" y1="318.90" x2="414.95" y2="297.50" stroke="#009E73" stroke-width="3.47"/>
<line x1="414.95" y1="297.50" x2="414.95" y2="234.60" stroke="#F0E442" stroke-width="3.47"/>
<line x1="414.95" y1="234.60" x2="414.95" y2="221.90" stroke="#0072B2" stroke-width="3.47"/>
<line x1="437.95" y1="331.65" x2="437.95" y2="329.10" stroke="#56B4E9" stroke-width="3.47"/>
<line x1="437.95" y1="329.10" x2="437.95" y2="226.00" stroke="#009E73" stroke-width="3.47"/>
<line x1="437.95" y1="226.00" x2="437.95" y2="215.10" stroke="#F0E442" stroke-width="3.47"/>
<line x1="437.95" y1="215.10" x2="437.95" y2="202.25" stroke="#0072B2" stroke-width="3.47"/>
<line x1="460.45" y1="331.65" x2="460.45" y2="329.60" stroke="#56B4E9" stroke-width="3.47"/>
<line x1="460.45" y1="329.60" x2="460.45" y2="310.10" stroke="#009E73" stroke-width="3.47"/>
<line x1="460.45" y1="310.10" x2="460.45" y2="255.90" stroke="#F0E442" stroke-width="3.47"/>
<line x1="460.45" y1="255.90" x2="460.45" y2="253.30" stroke="#0072B2" stroke-width="3.47"/>
<line x1="483.35" y1="331.65" x2="483.35" y2="313.10" stroke="#009E73" stroke-width="3.47"/>
<line x1="483.35" y1="313.10" x2="483.35" y2="302.25" stroke="#F0E442" stroke-width="3.47"/>
<line x1="483.35" y1="302.25" x2="483.35" y2="291.50" stroke="#0072B2" stroke-width="3.47"/>
<line x1="506.00" y1="331.65" x2="506.00" y2="328.90" stroke="#009E73" stroke-width="3.47"/>
<line x1="506.00" y1="328.90" x2="506.00" y2="318.60" stroke="#F0E442" stroke-width="3.47"/>
<line x1="506.00" y1="318.60" x2="506.00" y2="315.90" stroke="#0072B2" stroke-width="3.47"/>
<line x1="529.10" y1="331.65" x2="529.10" y2="329.80" stroke="#F0E442" stroke-width="3.47"/>
<line x1="529.10" y1="329.80" x2="529.10" y2="328.00" stroke="#0072B2" stroke-width="3.47"/>
<line x1="552.00" y1="331.65" x2="552.00" y2="331.20" stroke="#0072B2" stroke-width="3.47"/>
<rect x="228.40" y="1.70" width="341.90" height="345.65" fill="none" stroke="#000" stroke-width="1.39" stroke-linejoin="miter"/>
<line x1="228.40" y1="347.35" x2="228.40" y2="353.43" stroke="#000" stroke-width="1.39"/>
<text x="228.20" y="372.9" text-anchor="middle">440</text>
<line x1="342.37" y1="347.35" x2="342.37" y2="353.43" stroke="#000" stroke-width="1.39"/>
<text x="342.17" y="372.9" text-anchor="middle">445</text>
<line x1="456.33" y1="347.35" x2="456.33" y2="353.43" stroke="#000" stroke-width="1.39"/>
<text x="456.13" y="372.9" text-anchor="middle">450</text>
<line x1="570.30" y1="347.35" x2="570.30" y2="353.43" stroke="#000" stroke-width="1.39"/>
<text x="570.10" y="372.9" text-anchor="middle">455</text>
<text x="237.10" y="23.7">C</text>
<text x="399.35" y="396.85" text-anchor="middle">m/z</text>
<line x1="646.40" y1="53.63" x2="646.40" y2="52.84" stroke="#E69F00" stroke-width="3.47"/>
<line x1="657.85" y1="53.63" x2="657.85" y2="53.34" stroke="#E69F00" stroke-width="3.47"/>
<line x1="669.30" y1="53.63" x2="669.30" y2="53.36" stroke="#E69F00" stroke-width="3.47"/>
<line x1="692.20" y1="53.63" x2="692.20" y2="53.35" stroke="#E69F00" stroke-width="3.47"/>
<rect x="610.70" y="1.80" width="170.70" height="54.30" fill="none" stroke="#000" stroke-width="1.39" stroke-linejoin="miter"/>
<text x="619.20" y="23.50">D<tspan font-size="12.6px" dy="3.2">15</tspan></text>
<line x1="657.85" y1="125.54" x2="657.85" y2="119.43" stroke="#56B4E9" stroke-width="3.47"/>
<line x1="669.30" y1="125.54" x2="669.30" y2="123.08" stroke="#56B4E9" stroke-width="3.47"/>
<line x1="680.75" y1="125.54" x2="680.75" y2="123.16" stroke="#56B4E9" stroke-width="3.47"/>
<line x1="692.20" y1="125.54" x2="692.20" y2="125.10" stroke="#56B4E9" stroke-width="3.47"/>
<line x1="703.65" y1="125.54" x2="703.65" y2="123.43" stroke="#56B4E9" stroke-width="3.47"/>
<line x1="715.10" y1="125.54" x2="715.10" y2="125.12" stroke="#56B4E9" stroke-width="3.47"/>
<line x1="726.55" y1="125.54" x2="726.55" y2="125.20" stroke="#56B4E9" stroke-width="3.47"/>
<rect x="610.70" y="73.90" width="170.70" height="54.10" fill="none" stroke="#000" stroke-width="1.39" stroke-linejoin="miter"/>
<text x="619.20" y="95.60">D<tspan font-size="12.6px" dy="3.2">16</tspan></text>
<line x1="669.30" y1="200.59" x2="669.30" y2="148.31" stroke="#009E73" stroke-width="3.47"/>
<line x1="680.75" y1="200.59" x2="680.75" y2="179.28" stroke="#009E73" stroke-width="3.47"/>
<line x1="692.20" y1="200.59" x2="692.20" y2="179.82" stroke="#009E73" stroke-width="3.47"/>
<line x1="703.65" y1="200.59" x2="703.65" y2="196.83" stroke="#009E73" stroke-width="3.47"/>
<line x1="715.10" y1="200.59" x2="715.10" y2="182.47" stroke="#009E73" stroke-width="3.47"/>
<line x1="726.55" y1="200.59" x2="726.55" y2="197.16" stroke="#009E73" stroke-width="3.47"/>
<line x1="738.00" y1="200.59" x2="738.00" y2="197.33" stroke="#009E73" stroke-width="3.47"/>
<rect x="610.70" y="145.70" width="170.70" height="57.50" fill="none" stroke="#000" stroke-width="1.39" stroke-linejoin="miter"/>
<text x="619.20" y="167.40">D<tspan font-size="12.6px" dy="3.2">17</tspan></text>
<line x1="680.75" y1="272.74" x2="680.75" y2="246.84" stroke="#F0E442" stroke-width="3.47"/>
<line x1="692.20" y1="272.74" x2="692.20" y2="262.05" stroke="#F0E442" stroke-width="3.47"/>
<line x1="703.65" y1="272.74" x2="703.65" y2="262.34" stroke="#F0E442" stroke-width="3.47"/>
<line x1="715.10" y1="272.74" x2="715.10" y2="270.94" stroke="#F0E442" stroke-width="3.47"/>
<line x1="726.55" y1="272.74" x2="726.55" y2="263.78" stroke="#F0E442" stroke-width="3.47"/>
<line x1="738.00" y1="272.74" x2="738.00" y2="270.95" stroke="#F0E442" stroke-width="3.47"/>
<line x1="749.45" y1="272.74" x2="749.45" y2="271.04" stroke="#F0E442" stroke-width="3.47"/>
<line x1="760.90" y1="272.74" x2="760.90" y2="272.44" stroke="#F0E442" stroke-width="3.47"/>
<rect x="610.70" y="221.10" width="170.70" height="54.10" fill="none" stroke="#000" stroke-width="1.39" stroke-linejoin="miter"/>
<text x="619.20" y="242.80">D<tspan font-size="12.6px" dy="3.2">18</tspan></text>
<line x1="692.20" y1="344.88" x2="692.20" y2="339.58" stroke="#0072B2" stroke-width="3.47"/>
<line x1="703.65" y1="344.88" x2="703.65" y2="342.76" stroke="#0072B2" stroke-width="3.47"/>
<line x1="715.10" y1="344.88" x2="715.10" y2="342.74" stroke="#0072B2" stroke-width="3.47"/>
<line x1="726.55" y1="344.88" x2="726.55" y2="344.44" stroke="#0072B2" stroke-width="3.47"/>
<line x1="738.00" y1="344.88" x2="738.00" y2="343.09" stroke="#0072B2" stroke-width="3.47"/>
<line x1="749.45" y1="344.88" x2="749.45" y2="344.43" stroke="#0072B2" stroke-width="3.47"/>
<line x1="760.90" y1="344.88" x2="760.90" y2="344.58" stroke="#0072B2" stroke-width="3.47"/>
<rect x="610.70" y="292.90" width="170.70" height="54.45" fill="none" stroke="#000" stroke-width="1.39" stroke-linejoin="miter"/>
<line x1="610.70" y1="347.35" x2="610.70" y2="353.43" stroke="#000" stroke-width="1.39"/>
<text x="610.50" y="372.9" text-anchor="middle">440</text>
<line x1="667.60" y1="347.35" x2="667.60" y2="353.43" stroke="#000" stroke-width="1.39"/>
<text x="667.40" y="372.9" text-anchor="middle">445</text>
<line x1="724.50" y1="347.35" x2="724.50" y2="353.43" stroke="#000" stroke-width="1.39"/>
<text x="724.30" y="372.9" text-anchor="middle">450</text>
<line x1="781.40" y1="347.35" x2="781.40" y2="353.43" stroke="#000" stroke-width="1.39"/>
<text x="781.20" y="372.9" text-anchor="middle">455</text>
<text x="619.20" y="314.60">D<tspan font-size="12.6px" dy="3.2">19</tspan></text>
</svg>
</body></html>
